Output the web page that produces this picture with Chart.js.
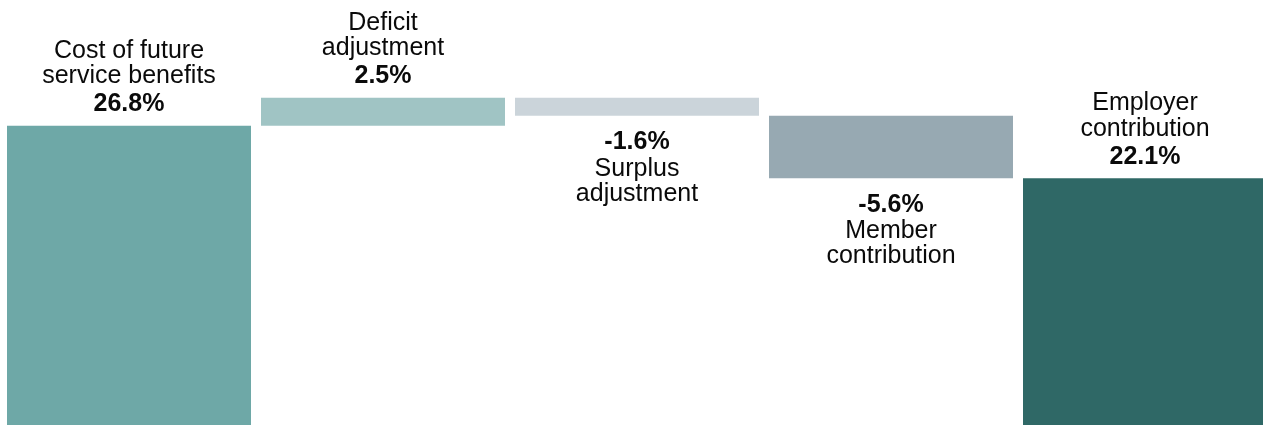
<!DOCTYPE html>
<html lang="en">
<head>
    <meta charset="UTF-8">
    <title>Contribution waterfall</title>
    <script src="https://cdn.jsdelivr.net/npm/chart.js"></script>
    <style>
        html, body { margin: 0; padding: 0; overflow: hidden; background: #fff; }
    </style>
</head>
<body>
    <canvas id="waterfall" width="1272" height="425"></canvas>

    <script>
        // Categories (split into label lines) and values
        const categories = [
            ['Cost of future', 'service benefits'],
            ['Deficit', 'adjustment'],
            ['Surplus', 'adjustment'],
            ['Member', 'contribution'],
            ['Employer', 'contribution']
        ];
        const values = [26.8, 2.5, -1.6, -5.6, 22.1];
        const isTotal = [true, false, false, false, true];
        const barColors = ['#6ea8a7', '#a0c4c4', '#cbd4da', '#97a9b2', '#2f6866'];

        // Build floating ranges for the waterfall
        const ranges = [];
        let running = 0;
        values.forEach((v, i) => {
            if (isTotal[i]) {
                ranges.push([0, v]);
                running = v;
            } else {
                ranges.push([running, running + v]);
                running += v;
            }
        });

        const FONT = '"Liberation Sans", Arial, sans-serif';

        // Labels above rising/total bars, below falling bars
        const labelPlugin = {
            id: 'waterfallLabels',
            afterDatasetsDraw(chart) {
                const ctx = chart.ctx;
                const meta = chart.getDatasetMeta(0);
                ctx.save();
                ctx.fillStyle = '#0a0a0a';
                ctx.textAlign = 'center';
                ctx.textBaseline = 'alphabetic';
                meta.data.forEach((bar, i) => {
                    const top = Math.min(bar.y, bar.base);
                    const bottom = Math.max(bar.y, bar.base);
                    const x = bar.x;
                    const valText = values[i].toFixed(1) + '%';
                    const lines = categories[i];
                    if (values[i] >= 0) {
                        const vy = top - 14.5;
                        ctx.font = 'bold 25px ' + FONT;
                        ctx.fillText(valText, x, vy);
                        ctx.font = '25px ' + FONT;
                        let ly = vy - 28;
                        for (let k = lines.length - 1; k >= 0; k--) {
                            ctx.fillText(lines[k], x, ly);
                            ly -= 25.5;
                        }
                    } else {
                        const vy = bottom + 33.5;
                        ctx.font = 'bold 25px ' + FONT;
                        ctx.fillText(valText, x, vy);
                        ctx.font = '25px ' + FONT;
                        let ly = vy + 26.5;
                        lines.forEach(line => {
                            ctx.fillText(line, x, ly);
                            ly += 25;
                        });
                    }
                });
                ctx.restore();
            }
        };

        const ctx = document.getElementById('waterfall').getContext('2d');
        new Chart(ctx, {
            type: 'bar',
            data: {
                labels: categories.map(c => c.join(' ')),
                datasets: [{
                    data: ranges,
                    backgroundColor: barColors,
                    borderWidth: 0,
                    categoryPercentage: 1.0,
                    barPercentage: 0.9606
                }]
            },
            options: {
                responsive: false,
                animation: false,
                layout: { padding: { left: 2, right: 0, top: 0, bottom: 0 } },
                plugins: {
                    legend: { display: false },
                    tooltip: { enabled: false }
                },
                scales: {
                    x: { display: false },
                    y: { display: false, min: 0, max: 38.06 }
                }
            },
            plugins: [labelPlugin]
        });
    </script>
</body>
</html>
